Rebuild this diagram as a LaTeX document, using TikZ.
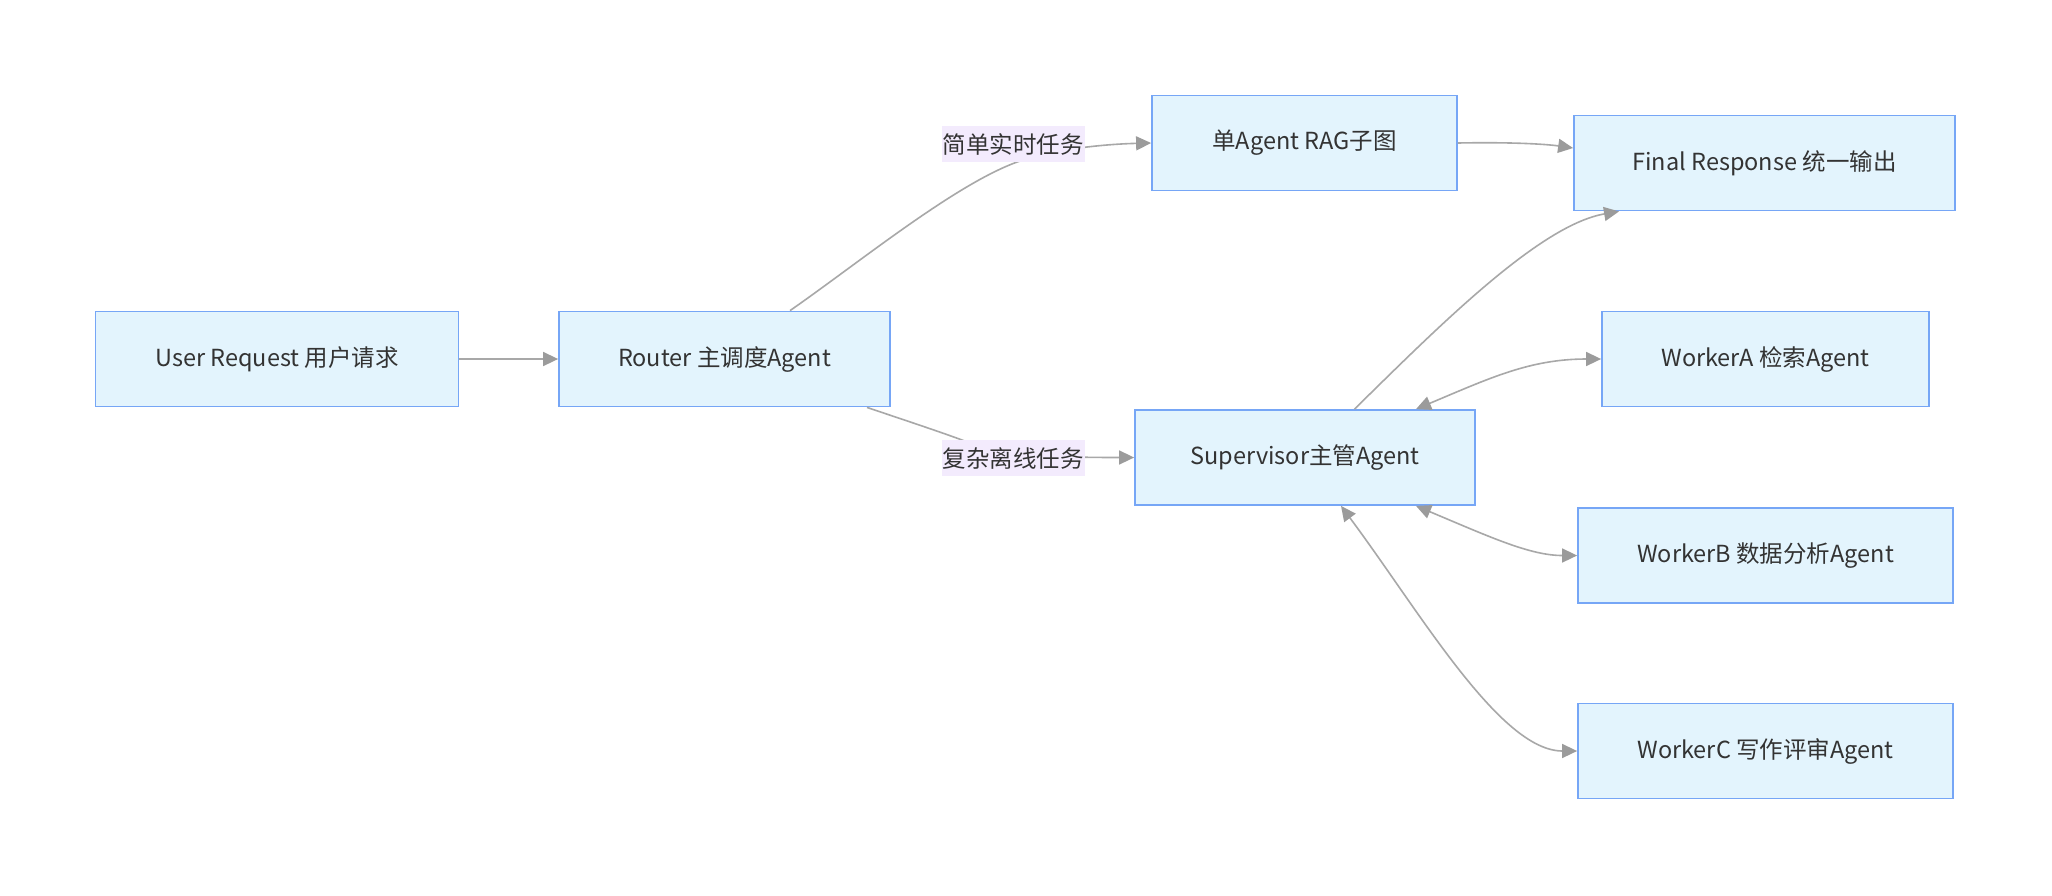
\documentclass[tikz,border=0pt]{standalone}
\usepackage{fontspec}
\setmainfont{Noto Sans CJK SC}
\usetikzlibrary{arrows.meta}
\definecolor{boxfill}{RGB}{227,244,253}
\definecolor{boxline}{RGB}{118,166,246}
\definecolor{edgecol}{RGB}{168,168,168}
\definecolor{tipcol}{RGB}{155,155,155}
\definecolor{txtcol}{RGB}{51,51,51}
\definecolor{lblbg}{RGB}{243,235,253}
\tikzset{
  agentbox/.style={draw=boxline, line width=1.8pt, fill=boxfill, text=txtcol,
    minimum height=95pt, inner sep=0pt, font=\fontsize{23.5}{28}\selectfont},
  edgelabel/.style={fill=lblbg, text=txtcol, inner xsep=1pt, inner ysep=0pt,
    minimum height=36pt, font=\fontsize{23.5}{28}\selectfont},
  conn/.style={draw=edgecol, line width=1.6pt,
    -{Triangle[length=15pt,width=14pt,fill=tipcol,color=tipcol]}},
  biconn/.style={draw=edgecol, line width=1.6pt,
    {Triangle[length=15pt,width=14pt,fill=tipcol,color=tipcol]}-{Triangle[length=15pt,width=14pt,fill=tipcol,color=tipcol]}},
}
\begin{document}
\begin{tikzpicture}[x=1pt,y=-1pt]
\path[use as bounding box, fill=white] (0,0) rectangle (2052,895);

\node[agentbox, minimum width=363pt] (user) at (277,359) {User Request 用户请求};
\node[agentbox, minimum width=331pt] (router) at (724.5,359) {Router 主调度Agent};
\node[agentbox, minimum width=305pt] (rag) at (1304.5,143) {单Agent RAG子图};
\node[agentbox, minimum width=381pt] (final) at (1764.5,163) {Final Response 统一输出};
\node[agentbox, minimum width=327pt] (wa) at (1765.5,359) {WorkerA 检索Agent};
\node[agentbox, minimum width=340pt] (sup) at (1305,457.5) {Supervisor主管Agent};
\node[agentbox, minimum width=375pt] (wb) at (1765.5,555.5) {WorkerB 数据分析Agent};
\node[agentbox, minimum width=375pt] (wc) at (1765.5,751) {WorkerC 写作评审Agent};

% connectors
\draw[conn] (user.east) -- (router.west);

\coordinate (r1) at ([xshift=65.5pt]router.north);
\draw[conn] (r1) .. controls (860,262) and (960,180) .. (1023,160)
  .. controls (1060,148) and (1110,144) .. (rag.west);

\coordinate (r2) at ([xshift=142.5pt]router.south);
\draw[conn] (r2) .. controls (910,422) and (950,435) .. (975,445)
  .. controls (1000,455) and (1050,457.5) .. (sup.west);

\coordinate (f1) at ([yshift=15pt]final.west);
\draw[conn] (rag.east) .. controls (1510,142) and (1545,144) .. (f1);

\coordinate (s0) at ([xshift=49.5pt]sup.north);
\coordinate (f2) at ([xshift=-145.5pt]final.south);
\draw[conn] (s0) .. controls (1440,325) and (1540,225) .. (f2);

\coordinate (s1) at ([xshift=111pt]sup.north);
\draw[biconn] (s1) .. controls (1490,378) and (1530,359) .. (wa.west);

\coordinate (s2) at ([xshift=111pt]sup.south);
\draw[biconn] (s2) .. controls (1490,537) and (1530,555.5) .. (wb.west);

\coordinate (s3) at ([xshift=36pt]sup.south);
\draw[biconn] (s3) .. controls (1420,612) and (1500,751) .. (wc.west);

% edge labels
\node[edgelabel] (l1) at (1013,144) {简单实时任务};
\node[edgelabel] (l2) at (1013,458) {复杂离线任务};
\end{tikzpicture}
\end{document}
